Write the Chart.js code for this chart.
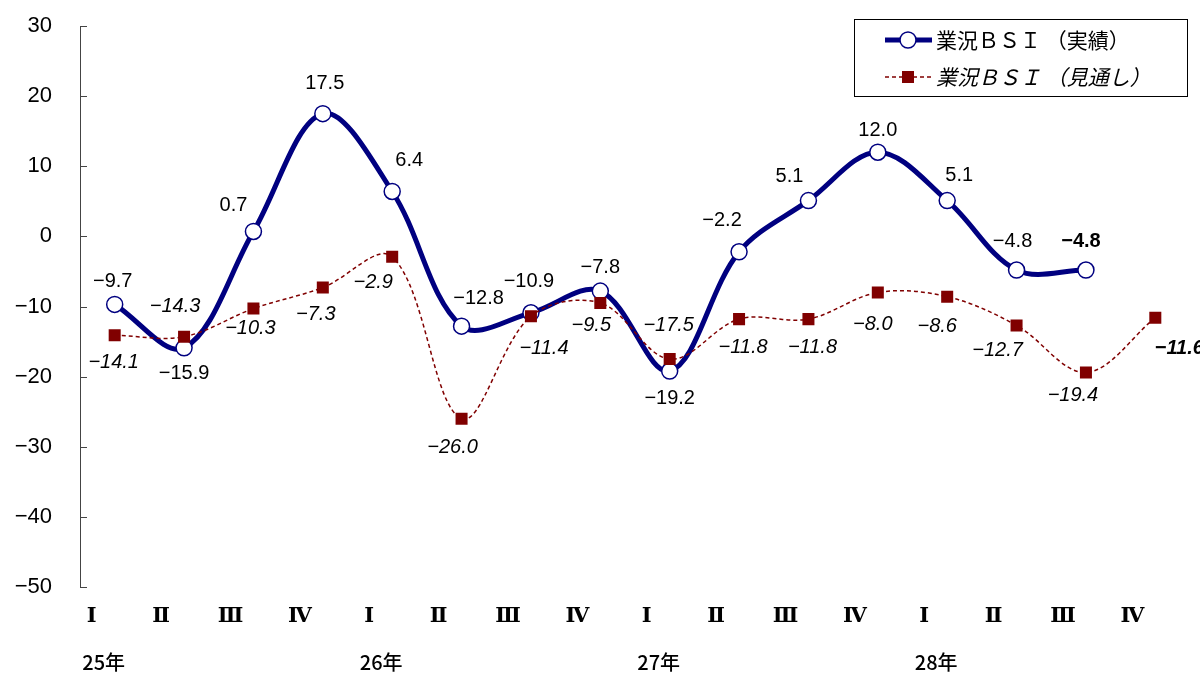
<!DOCTYPE html>
<html><head><meta charset="utf-8">
<script src="https://cdn.jsdelivr.net/npm/chart.js@4/dist/chart.umd.min.js"></script>
<style>html,body{margin:0;padding:0;background:#fff;overflow:hidden;}</style>
</head><body>
<canvas id="c" width="1200" height="673"></canvas>
<script>
const quarters = ['Ⅰ','Ⅱ','Ⅲ','Ⅳ','Ⅰ','Ⅱ','Ⅲ','Ⅳ','Ⅰ','Ⅱ','Ⅲ','Ⅳ','Ⅰ','Ⅱ','Ⅲ','Ⅳ'];
const years = ['25年','','','','26年','','','','27年','','','','28年','','',''];
const actual = [-9.7,-15.9,0.7,17.5,6.4,-12.8,-10.9,-7.8,-19.2,-2.2,5.1,12.0,5.1,-4.8,-4.8,null];
const outlook = [-14.1,-14.3,-10.3,-7.3,-2.9,-26.0,-11.4,-9.5,-17.5,-11.8,-11.8,-8.0,-8.6,-12.7,-19.4,-11.6];
const yTicks = [30,20,10,0,-10,-20,-30,-40,-50];
const seriesNames = ['業況ＢＳＩ （実績）','業況ＢＳＩ （見通し）'];

// label placement (style only)
const actualLabelOffset = [[-2,-23],[0,26],[-20,-26],[2,-30],[17,-31],[17,-28],[-2,-31],[0,-24],[0,27],[-17,-31],[-19,-24],[0,-22],[12,-25],[-4,-29],[-5,-29],null];
const outlookLabelOffset = [[-1,27],[-9,-30],[-3,20],[-7,27],[-19,26],[-9,29],[13,32],[-9,22],[-1,-34],[4,28],[4,28],[-5,32],[-10,30],[-19,25],[-13,23],[24,31]];
const actualBold = 14, outlookBold = 15;

const NAVY = '#000080', MAROON = '#800000';
const fmt = v => (v < 0 ? '\u2212' + Math.abs(v).toFixed(1) : v.toFixed(1));

const custom = {
  id: 'custom',
  afterDatasetsDraw(chart) {
    const ctx = chart.ctx;
    ctx.save();
    ctx.textAlign = 'center';
    ctx.textBaseline = 'middle';
    ctx.fillStyle = '#000';
    const m0 = chart.getDatasetMeta(0), m1 = chart.getDatasetMeta(1);
    actual.forEach((v, i) => {
      if (v === null) return;
      const p = m0.data[i], o = actualLabelOffset[i];
      ctx.font = (i === actualBold ? 'bold ' : '') + '20px "Liberation Sans", Arial, sans-serif';
      ctx.fillText(fmt(v), p.x + o[0], p.y + o[1]);
    });
    outlook.forEach((v, i) => {
      if (v === null) return;
      const p = m1.data[i], o = outlookLabelOffset[i];
      ctx.font = 'italic ' + (i === outlookBold ? 'bold ' : '') + '20px "Liberation Sans", Arial, sans-serif';
      ctx.fillText(fmt(v), p.x + o[0], p.y + o[1]);
    });
    ctx.restore();
  },
  afterDraw(chart) {
    const ctx = chart.ctx, xs = chart.scales.x, ys = chart.scales.y, ca = chart.chartArea;
    ctx.save();
    ctx.strokeStyle = '#444'; ctx.lineWidth = 1;
    yTicks.forEach(v => {
      const y = Math.round(ys.getPixelForValue(v)) + 0.5;
      ctx.beginPath(); ctx.moveTo(ca.left, y); ctx.lineTo(ca.left + 7, y); ctx.stroke();
    });
    ctx.fillStyle = '#000'; ctx.textAlign = 'center'; ctx.textBaseline = 'middle';
    quarters.forEach((q, i) => {
      const x = xs.getPixelForValue(i);
      ctx.font = 'bold 21px "DejaVu Serif", "Liberation Serif", serif';
      ctx.fillText(q, x - 23, ca.bottom + 30);
      if (years[i]) {
        ctx.font = '500 20px "Noto Sans CJK JP", sans-serif';
        ctx.fillText(years[i], x - 11, ca.bottom + 75);
      }
    });
    const lx = 854.5, ly = 19.5, lw = 333, lh = 77;
    ctx.fillStyle = '#fff'; ctx.fillRect(lx, ly, lw, lh);
    ctx.strokeStyle = '#000'; ctx.lineWidth = 1; ctx.strokeRect(lx, ly, lw, lh);
    const ds = chart.data.datasets;
    const rows = [40, 77];
    ctx.strokeStyle = ds[0].borderColor; ctx.lineWidth = ds[0].borderWidth; ctx.setLineDash([]);
    ctx.beginPath(); ctx.moveTo(885, rows[0]); ctx.lineTo(932, rows[0]); ctx.stroke();
    ctx.beginPath(); ctx.arc(908, rows[0], ds[0].pointRadius, 0, Math.PI * 2);
    ctx.fillStyle = ds[0].pointBackgroundColor; ctx.fill();
    ctx.lineWidth = ds[0].pointBorderWidth; ctx.strokeStyle = ds[0].pointBorderColor; ctx.stroke();
    ctx.strokeStyle = ds[1].borderColor; ctx.lineWidth = ds[1].borderWidth; ctx.setLineDash(ds[1].borderDash);
    ctx.beginPath(); ctx.moveTo(885, rows[1]); ctx.lineTo(932, rows[1]); ctx.stroke();
    ctx.setLineDash([]);
    ctx.fillStyle = ds[1].pointBackgroundColor; ctx.fillRect(902, rows[1] - 6, 12, 12);
    ctx.fillStyle = '#000'; ctx.textAlign = 'left'; ctx.textBaseline = 'middle';
    ctx.font = '21px "Noto Sans CJK JP", sans-serif';
    ctx.fillText(ds[0].label, 936, rows[0]);
    ctx.font = 'italic 21px "Noto Sans CJK JP", sans-serif';
    ctx.fillText(ds[1].label, 936, rows[1]);
    ctx.restore();
  }
};

new Chart(document.getElementById('c').getContext('2d'), {
  type: 'line',
  data: {
    labels: quarters,
    datasets: [
      { label: seriesNames[0], data: actual, borderColor: NAVY, borderWidth: 5, tension: 0.35,
        pointStyle: 'circle', pointRadius: 8, pointBackgroundColor: '#fff', pointBorderColor: NAVY,
        pointBorderWidth: 1.5, order: 1 },
      { label: seriesNames[1], data: outlook, borderColor: MAROON, borderWidth: 1.5, borderDash: [4, 3],
        tension: 0.35, pointStyle: 'rect', pointRadius: 8.5, pointBackgroundColor: MAROON,
        pointBorderColor: MAROON, pointBorderWidth: 0, order: 0 }
    ]
  },
  options: {
    responsive: false, animation: false,
    layout: { padding: { left: 0, right: 10, top: 26, bottom: 86 } },
    plugins: { legend: { display: false }, tooltip: { enabled: false } },
    scales: {
      x: { type: 'category', offset: true, display: false },
      y: {
        min: -50, max: 30,
        afterBuildTicks: s => { s.ticks = yTicks.map(v => ({ value: v })); },
        afterFit: s => { s.width = 80; s.paddingTop = 0; s.paddingBottom = 0; },
        grid: { display: false, drawTicks: false },
        border: { display: true, color: '#444', width: 1 },
        ticks: { padding: 28, color: '#000', font: { family: '"Liberation Sans", Arial, sans-serif', size: 22 },
          callback: v => (v < 0 ? '\u2212' + Math.abs(v) : String(v)) }
      }
    }
  },
  plugins: [custom]
});
</script>
</body></html>
